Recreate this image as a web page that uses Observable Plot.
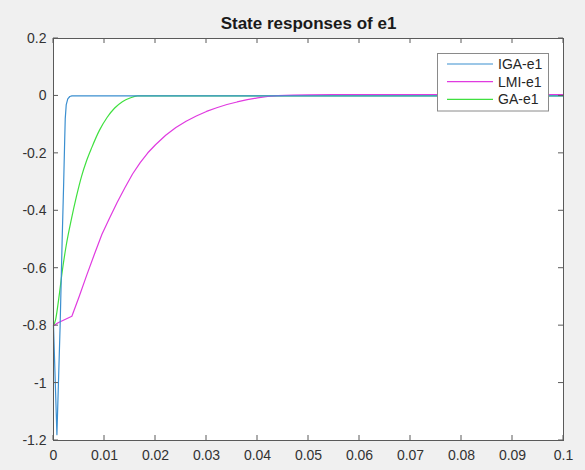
<!DOCTYPE html>
<html><head><meta charset="utf-8">
<script src="https://cdn.jsdelivr.net/npm/d3@7"></script>
<script src="https://cdn.jsdelivr.net/npm/@observablehq/plot@0.6"></script>
<style>
html,body{margin:0;padding:0;background:#f0f0f0;}
#chart svg{display:block;}
</style></head><body><div id="chart"></div>
<script>
const title = "State responses of e1";
const seriesNames = ["IGA-e1", "LMI-e1", "GA-e1"];
const seriesColors = ["#3b8fd0", "#e03be0", "#3fe03f"];

const igaT = [0, 0.00067, 0.0013, 0.0017, 0.002, 0.0022, 0.0023, 0.0025, 0.0028, 0.0032, 0.0036, 0.01, 0.05, 0.1];
const igaV = [-0.8, -1.18, -0.8, -0.5, -0.3, -0.15, -0.08, -0.03, -0.01, -0.002, 0, 0, 0, 0];

const lmiT = [0, 0.0009, 0.0036, 0.005, 0.0065, 0.008, 0.0095, 0.011, 0.0125, 0.014, 0.0155, 0.017, 0.0185, 0.02, 0.022, 0.024, 0.026, 0.028, 0.03, 0.032, 0.034, 0.036, 0.038, 0.04, 0.042, 0.044, 0.047, 0.05, 0.055, 0.1];
const lmiV = [-0.8, -0.79, -0.767, -0.7, -0.625, -0.552, -0.482, -0.425, -0.37, -0.32, -0.272, -0.232, -0.198, -0.17, -0.137, -0.11, -0.088, -0.07, -0.054, -0.041, -0.03, -0.021, -0.013, -0.007, -0.002, 0.001, 0.003, 0.004, 0.005, 0.005];

const gaT = [0, 0.0004, 0.001, 0.0018, 0.0025, 0.0035, 0.0045, 0.0055, 0.0065, 0.0075, 0.009, 0.0105, 0.012, 0.0135, 0.015, 0.0165, 0.03, 0.06, 0.1];
const gaV = [-0.8, -0.78, -0.71, -0.6, -0.52, -0.43, -0.35, -0.28, -0.225, -0.18, -0.12, -0.075, -0.042, -0.02, -0.007, 0, 0, 0, 0];

const xTicks = [0, 0.01, 0.02, 0.03, 0.04, 0.05, 0.06, 0.07, 0.08, 0.09, 0.1];
const xTickLabels = ["0", "0.01", "0.02", "0.03", "0.04", "0.05", "0.06", "0.07", "0.08", "0.09", "0.1"];
const yTicks = [-1.2, -1, -0.8, -0.6, -0.4, -0.2, 0, 0.2];
const yTickLabels = ["-1.2", "-1", "-0.8", "-0.6", "-0.4", "-0.2", "0", "0.2"];

const iga = igaT.map((t, i) => ({series: seriesNames[0], t, v: igaV[i]}));
const lmi = lmiT.map((t, i) => ({series: seriesNames[1], t, v: lmiV[i]}));
const ga = gaT.map((t, i) => ({series: seriesNames[2], t, v: gaV[i]}));

const xFmt = (d, i) => xTickLabels[i];
const yFmt = (d, i) => yTickLabels[i];
const axisColor = "#5a5a5a";

const plot = Plot.plot({
  width: 585, height: 470,
  marginTop: 38, marginBottom: 30, marginLeft: 53, marginRight: 22,
  x: {domain: [0, 0.1]},
  y: {domain: [-1.2, 0.2]},
  color: {domain: seriesNames, range: seriesColors},
  style: {background: "transparent", fontFamily: "'Liberation Sans', Arial, sans-serif", fontSize: "14px", color: "#333"},
  marks: [
    Plot.frame({fill: "white", stroke: null}),
    Plot.line(ga, {x: "t", y: "v", stroke: "series", strokeWidth: 1.2, curve: "monotone-x"}),
    Plot.line(lmi, {x: "t", y: "v", stroke: "series", strokeWidth: 1.2}),
    Plot.line(iga, {x: "t", y: "v", stroke: "series", strokeWidth: 1.2}),
    Plot.frame({stroke: axisColor}),
    Plot.axisX({ticks: xTicks, tickSize: 0, tickPadding: 10, tickFormat: xFmt, label: null, fontSize: 14}),
    Plot.axisY({ticks: yTicks, tickSize: 0, tickPadding: 7, tickFormat: yFmt, label: null, fontSize: 14}),
    Plot.text([title], {frameAnchor: "top", dy: -10, lineAnchor: "bottom", fontWeight: "bold", fontSize: 17, fill: "#1a1a1a"})
  ]
});

const svg = d3.select(plot);
const xs = plot.scale("x"), ys = plot.scale("y");
const [yLo, yHi] = ys.domain, [xLo, xHi] = xs.domain;
// inward tick marks on all four sides, placed through Plot's own scales
const tg = svg.append("g").attr("stroke", axisColor).attr("stroke-width", 1);
xTicks.forEach(v => {
  const px = xs.apply(v);
  tg.append("line").attr("x1", px).attr("x2", px).attr("y1", ys.apply(yLo)).attr("y2", ys.apply(yLo) - 5);
  tg.append("line").attr("x1", px).attr("x2", px).attr("y1", ys.apply(yHi)).attr("y2", ys.apply(yHi) + 5);
});
yTicks.forEach(v => {
  const py = ys.apply(v);
  tg.append("line").attr("y1", py).attr("y2", py).attr("x1", xs.apply(xLo)).attr("x2", xs.apply(xLo) + 5);
  tg.append("line").attr("y1", py).attr("y2", py).attr("x1", xs.apply(xHi)).attr("x2", xs.apply(xHi) - 5);
});

// legend
const color = plot.scale("color");
const lg = svg.append("g").attr("font-family", "'Liberation Sans', Arial, sans-serif").attr("font-size", 14).attr("text-anchor", "start");
lg.append("rect").attr("x", 437.5).attr("y", 53.5).attr("width", 111).attr("height", 57.5)
  .attr("fill", "white").attr("stroke", "#8a8a8a");
seriesNames.forEach((n, i) => {
  const cy = 64 + i * 17.7;
  lg.append("line").attr("x1", 447).attr("x2", 493).attr("y1", cy).attr("y2", cy)
    .attr("stroke", color.apply(n)).attr("stroke-width", 1.2);
  lg.append("text").attr("x", 498).attr("y", cy).attr("dy", "0.35em").attr("text-anchor", "start").attr("fill", "#262626").text(n);
});

document.getElementById("chart").appendChild(plot);
</script></body></html>
